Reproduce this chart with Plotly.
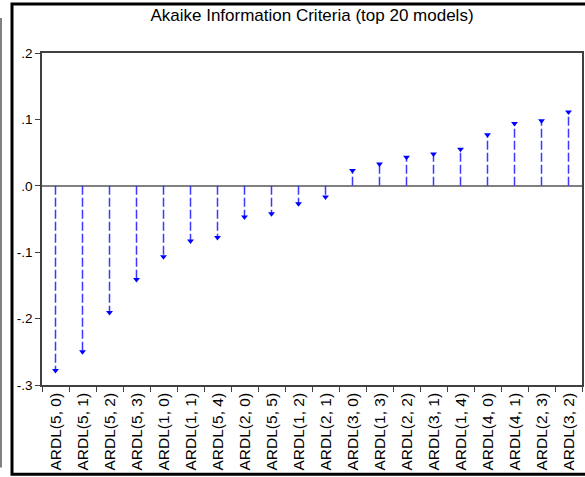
import plotly.graph_objects as go

models = ["ARDL(5, 0)", "ARDL(5, 1)", "ARDL(5, 2)", "ARDL(5, 3)", "ARDL(1, 0)",
          "ARDL(1, 1)", "ARDL(5, 4)", "ARDL(2, 0)", "ARDL(5, 5)", "ARDL(1, 2)",
          "ARDL(2, 1)", "ARDL(3, 0)", "ARDL(1, 3)", "ARDL(2, 2)", "ARDL(3, 1)",
          "ARDL(1, 4)", "ARDL(4, 0)", "ARDL(4, 1)", "ARDL(2, 3)", "ARDL(3, 2)"]
aic = [-0.278, -0.250, -0.191, -0.141, -0.107,
       -0.083, -0.078, -0.047, -0.042, -0.027,
       -0.017, 0.023, 0.033, 0.043, 0.048,
       0.055, 0.077, 0.094, 0.098, 0.111]
ytick_vals = [-0.3, -0.2, -0.1, 0.0, 0.1, 0.2]
ytick_text = ["-.3", "-.2", "-.1", ".0", ".1", ".2"]

W, H = 585, 477
L, R, T, B = 42, 3, 53, 91.5
pw, ph = W - L - R, H - T - B

def px(x):
    return (x - L) / pw

def py(y):
    return (H - B - y) / ph

sx, sy = [], []
for m, v in zip(models, aic):
    sx += [m, m, None]
    sy += [0, v, None]

fig = go.Figure()
fig.add_trace(go.Scatter(x=sx, y=sy, mode="lines",
                         line=dict(color="#3a3aff", width=1.5, dash="9px,3px"),
                         hoverinfo="skip", showlegend=False))
fig.add_trace(go.Scatter(x=models, y=aic, mode="markers",
                         marker=dict(symbol="triangle-down", size=6, color="#0000ff",
                                     line=dict(width=0)),
                         showlegend=False))

fig.update_layout(
    width=W, height=H,
    margin=dict(l=L, r=R, t=T, b=B, pad=0, autoexpand=False),
    paper_bgcolor="white", plot_bgcolor="white",
    font=dict(family="Liberation Sans, Arial, sans-serif", size=13, color="black"),
    title=dict(text="Akaike Information Criteria (top 20 models)",
               x=px(312), xref="paper", xanchor="center",
               y=1 - 15 / H, yanchor="middle", automargin=False,
               font=dict(size=17, color="black")),
    xaxis=dict(type="category", range=[-0.5, 19.5], showgrid=False,
               automargin=False,
               ticks="outside", ticklen=5, tickcolor="#404040", tickwidth=1,
               tickson="boundaries", tickangle=-90, tickfont=dict(size=15.5),
               showline=True, linecolor="#404040", linewidth=1.5, mirror=True,
               zeroline=False),
    yaxis=dict(range=[-0.3, 0.2], tickvals=ytick_vals, ticktext=ytick_text,
               automargin=False, tickfont=dict(size=13.5),
               showgrid=False, ticks="outside", ticklen=5, tickcolor="#404040",
               showline=True, linecolor="#404040", linewidth=1.5, mirror=True,
               zeroline=True, zerolinecolor="#808080", zerolinewidth=2),
    shapes=[
        dict(type="rect", xref="paper", yref="paper",
             x0=px(12), x1=px(640), y0=py(475), y1=py(4),
             line=dict(color="black", width=3), fillcolor="rgba(0,0,0,0)"),
        dict(type="line", xref="paper", yref="paper",
             x0=px(1), x1=px(1), y0=py(468), y1=py(18),
             line=dict(color="#808080", width=2)),
    ],
)

fig.write_html("out.html", config={"displayModeBar": False},
               post_script="document.body.style.margin='0';document.body.style.overflow='hidden';")
